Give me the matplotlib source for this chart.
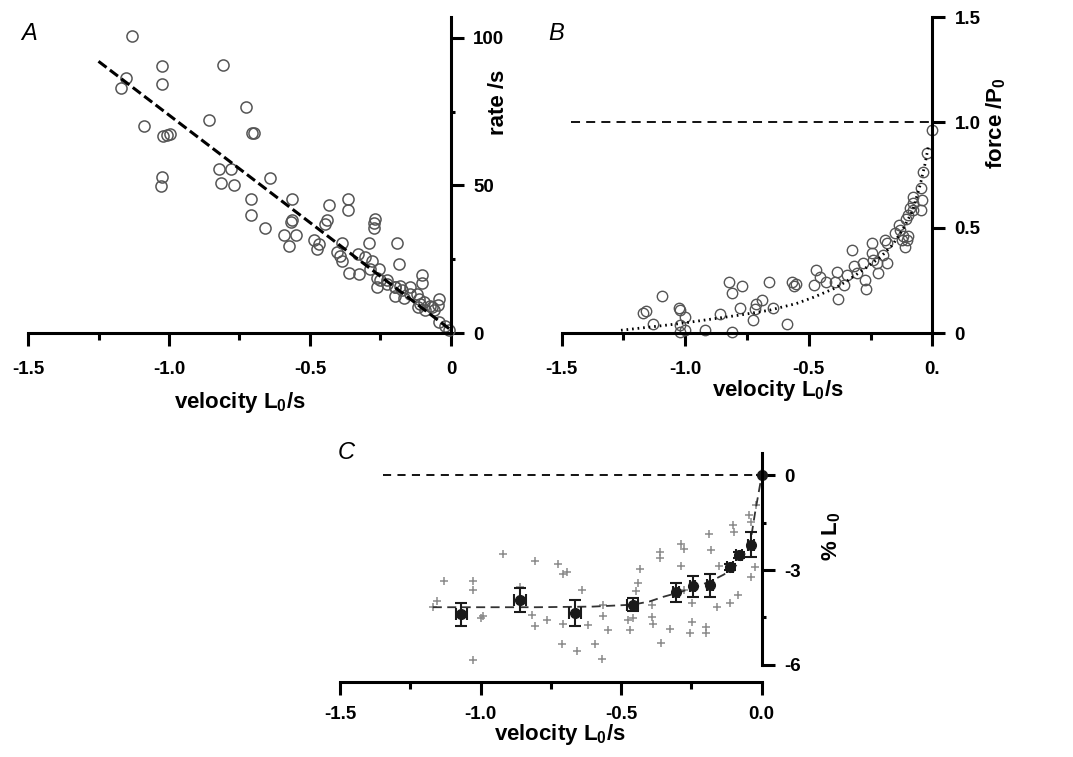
import matplotlib
matplotlib.use("Agg")
import matplotlib.pyplot as plt

plt.rcParams["font.family"] = ["Liberation Sans", "DejaVu Sans"]
plt.rcParams["mathtext.default"] = "regular"

# panel A: rate vs velocity
vel_a = [-1.13, -1.026, -0.81, -1.151, -1.17, -1.024, -0.726, -0.858, -1.09, -1.02,
         -1.008, -0.998, -0.705, -0.698, -1.024, -1.028, -0.823, -0.779, -0.815, -0.771,
         -0.643, -0.708, -0.71, -0.661, -0.563, -0.568, -0.563, -0.592, -0.573, -0.548,
         -0.433, -0.44, -0.446, -0.485, -0.468, -0.474, -0.365, -0.365, -0.271, -0.274,
         -0.272, -0.291, -0.19, -0.386, -0.404, -0.392, -0.386, -0.33, -0.306, -0.28,
         -0.286, -0.363, -0.327, -0.255, -0.261, -0.263, -0.227, -0.184, -0.2, -0.2,
         -0.18, -0.165, -0.147, -0.102, -0.102, -0.12, -0.115, -0.109, -0.118, -0.091,
         -0.073, -0.044, -0.046, -0.061, -0.043, -0.02, -0.008, -0.251, -0.227, -0.197,
         -0.173, -0.144, -0.097, -0.067]
rate_a = [100.6, 90.5, 90.7, 86.5, 82.9, 84.3, 76.6, 72.3, 70.2, 66.6,
          67.0, 67.3, 67.7, 67.7, 52.7, 49.8, 55.5, 55.5, 50.9, 50.0,
          52.4, 45.3, 40.0, 35.6, 45.5, 37.6, 38.2, 33.2, 29.3, 33.2,
          43.5, 38.3, 37.0, 31.4, 30.3, 28.5, 45.5, 41.7, 38.6, 37.2,
          35.4, 30.4, 30.4, 30.4, 27.4, 26.2, 24.5, 26.8, 25.7, 24.5,
          21.7, 20.3, 20.0, 21.7, 18.7, 15.5, 17.8, 23.4, 12.4, 15.5,
          16.0, 11.8, 15.5, 19.8, 16.9, 13.2, 11.5, 9.8, 8.8, 7.7,
          9.3, 11.4, 9.6, 7.7, 3.7, 2.3, 0.9, 18.0, 16.7, 15.5,
          14.4, 13.3, 10.6, 8.9]
fit_a_x = [-1.25, 0.0]
fit_a_y = [92.0, 1.0]

# panel B: force vs velocity
vel_b = [-1.17, -1.157, -1.132, -1.093, -1.024, -1.021, -1.0, -1.021, -1.021, -1.003,
         -0.92, -0.86, -0.81, -0.822, -0.812, -0.769, -0.779, -0.725, -0.714, -0.691,
         -0.718, -0.66, -0.644, -0.59, -0.567, -0.553, -0.56, -0.48, -0.469, -0.453,
         -0.432, -0.385, -0.381, -0.392, -0.358, -0.344, -0.326, -0.319, -0.306, -0.279,
         -0.273, -0.269, -0.246, -0.246, -0.239, -0.225, -0.219, -0.198, -0.185, -0.191,
         -0.182, -0.151, -0.134, -0.131, -0.124, -0.117, -0.111, -0.104, -0.097, -0.107,
         -0.097, -0.09, -0.077, -0.077, -0.077, -0.047, -0.043, -0.046, -0.036, -0.023,
         0.0]
force_b = [0.097, 0.103, 0.041, 0.176, 0.12, 0.11, 0.076, 0.04, 0.005, 0.013,
           0.013, 0.092, 0.005, 0.243, 0.19, 0.222, 0.12, 0.06, 0.14, 0.159,
           0.116, 0.243, 0.12, 0.041, 0.243, 0.235, 0.224, 0.227, 0.298, 0.267,
           0.243, 0.29, 0.16, 0.243, 0.227, 0.275, 0.394, 0.317, 0.286, 0.33,
           0.251, 0.211, 0.425, 0.378, 0.346, 0.33, 0.284, 0.37, 0.33, 0.443,
           0.427, 0.473, 0.513, 0.49, 0.443, 0.459, 0.41, 0.443, 0.459, 0.54,
           0.56, 0.592, 0.616, 0.584, 0.648, 0.688, 0.632, 0.584, 0.765, 0.854,
           0.965]
fit_b_x = [-1.26, -1.13, -1.02, -0.9, -0.78, -0.66, -0.55, -0.48, -0.4, -0.35,
           -0.28, -0.21, -0.16, -0.12, -0.08, -0.05, -0.03, -0.016]
fit_b_y = [0.013, 0.03, 0.045, 0.065, 0.085, 0.108, 0.14, 0.17, 0.21, 0.243,
           0.3, 0.36, 0.42, 0.49, 0.58, 0.7, 0.8, 0.886]

# panel C: % L0 vs velocity
vel_c = [-1.129, -1.154, -1.171, -1.026, -1.026, -1.026, -1.0, -0.99, -0.922, -0.86,
         -0.818, -0.807, -0.765, -0.807, -0.724, -0.706, -0.692, -0.706, -0.709, -0.658,
         -0.64, -0.617, -0.593, -0.569, -0.564, -0.566, -0.546, -0.474, -0.469, -0.457,
         -0.447, -0.439, -0.433, -0.391, -0.391, -0.386, -0.362, -0.362, -0.358, -0.326,
         -0.288, -0.276, -0.288, -0.278, -0.249, -0.249, -0.255, -0.198, -0.198, -0.186,
         -0.18, -0.16, -0.151, -0.113, -0.101, -0.097, -0.083, -0.044, -0.039, -0.039,
         -0.024, -0.02]
len_c = [-3.34, -3.97, -4.18, -3.36, -3.63, -5.84, -4.53, -4.45, -2.5, -3.54,
         -4.42, -4.79, -4.6, -2.7, -2.81, -3.12, -3.06, -4.7, -5.34, -5.58,
         -3.63, -4.74, -5.34, -5.82, -4.47, -4.1, -4.89, -4.6, -4.89, -4.53,
         -3.68, -3.42, -2.97, -4.1, -4.49, -4.7, -2.42, -2.63, -5.3, -4.87,
         -2.17, -2.34, -2.87, -3.63, -4.05, -4.66, -5.0, -4.81, -5.0, -1.86,
         -2.36, -4.16, -2.87, -4.05, -1.57, -1.78, -3.79, -1.26, -1.47, -3.21,
         -2.91, -0.94]
mean_vel = [-1.068, -0.86, -0.664, -0.459, -0.305, -0.246, -0.184, -0.113, -0.08, -0.039, 0.0]
mean_len = [-4.4, -3.95, -4.37, -4.1, -3.71, -3.52, -3.49, -2.91, -2.52, -2.2, 0.0]
mean_err = [0.36, 0.37, 0.42, 0.2, 0.29, 0.33, 0.37, 0.1, 0.1, 0.4, 0.0]
mean_xerr = [0.02, 0.02, 0.02, 0.02, 0.01, 0.01, 0.01, 0.01, 0.01, 0.01, 0.0]
fit_c_x = [-1.17, -1.0, -0.8, -0.6, -0.46, -0.4, -0.35, -0.29, -0.23, -0.18,
           -0.136, -0.1, -0.065, -0.04, -0.024, -0.01, 0.0]
fit_c_y = [-4.18, -4.18, -4.18, -4.16, -4.1, -4.0, -3.85, -3.7, -3.52, -3.35,
           -3.15, -2.95, -2.57, -2.1, -1.2, -0.5, 0.0]

vel_ticks = [-1.5, -1.0, -0.5, 0.0]
vel_minor = [-1.25, -0.75, -0.25]

SPINE = 2.2
TICKFONT = dict(fontsize=13.5, fontweight="bold")
LABELFONT = dict(fontsize=16, fontweight="bold")


def style_axes(ax):
    ax.spines["top"].set_visible(False)
    ax.spines["left"].set_visible(False)
    ax.spines["right"].set_linewidth(SPINE)
    ax.spines["bottom"].set_linewidth(SPINE)
    ax.yaxis.tick_right()
    ax.yaxis.set_label_position("right")
    ax.tick_params(which="major", length=9, width=SPINE)
    ax.tick_params(which="minor", length=5, width=SPINE)
    ax.tick_params(axis="x", which="major", pad=11)
    ax.tick_params(axis="y", which="major", pad=7)
    ax.set_xlim(-1.5, 0)
    ax.set_xticks(vel_minor, minor=True)
    ax.patch.set_alpha(0)


fig = plt.figure(figsize=(10.73, 7.57), dpi=100)

# ---- A
axA = fig.add_axes([0.0261, 0.5601, 0.3942, 0.4174])
style_axes(axA)
axA.plot(vel_a, rate_a, "o", ms=8, mfc="none", mec="#555555", mew=1.1, clip_on=False)
axA.plot(fit_a_x, fit_a_y, color="black", lw=2.2, dashes=(3.3, 1.4))
axA.set_ylim(0, 107)
axA.set_yticks([0, 50, 100])
axA.set_yticklabels(["0", "50", "100"], **TICKFONT)
axA.set_yticks([25, 75], minor=True)
axA.tick_params(axis="y", which="minor", length=3)
axA.set_xticks(vel_ticks)
axA.set_xticklabels(["-1.5", "-1.0", "-0.5", "0"], **TICKFONT)
axA.set_xlabel("velocity L$_0$/s", **LABELFONT)
axA.xaxis.set_label_coords(0.5, -0.18)
axA.set_ylabel("rate /s", rotation=90, **LABELFONT)
axA.yaxis.set_label_coords(1.087, 0.73)
fig.text(0.027, 0.956, "A", fontsize=17, style="italic", ha="center", va="center")

# ---- B
axB = fig.add_axes([0.5235, 0.5601, 0.3454, 0.4174])
style_axes(axB)
axB.plot(vel_b, force_b, "o", ms=7.5, mfc="none", mec="#555555", mew=1.0, clip_on=False)
axB.plot(fit_b_x, fit_b_y, color="black", lw=2.0, linestyle=(0, (0.6, 1.4)))
axB.axhline(1.0, xmin=0.024, xmax=1.0, color="black", lw=1.3, dashes=(5, 3.4))
axB.set_ylim(0, 1.5)
axB.set_yticks([0, 0.5, 1.0, 1.5])
axB.set_yticklabels(["0", "0.5", "1.0", "1.5"], **TICKFONT)
axB.set_xticks(vel_ticks)
axB.set_xticklabels(["-1.5", "-1.0", "-0.5", "0."], **TICKFONT)
axB.set_xlabel("velocity L$_0$/s", **LABELFONT)
axB.xaxis.set_label_coords(0.584, -0.142)
axB.set_ylabel("force /P$_0$", rotation=90, **LABELFONT)
axB.yaxis.set_label_coords(1.14, 0.665)
fig.text(0.518, 0.956, "B", fontsize=17, style="italic", ha="center", va="center")

# ---- C
axC = fig.add_axes([0.3169, 0.0991, 0.3930, 0.3021])
style_axes(axC)
axC.spines["right"].set_bounds(-6, 0.7)
axC.plot(vel_c, len_c, "+", ms=5.5, color="#8a8a8a", mew=1.1, clip_on=False)
axC.plot(fit_c_x, fit_c_y, color="#333333", lw=1.3, dashes=(5, 3))
axC.axhline(0.0, xmin=0.103, xmax=1.0, color="black", lw=1.3, dashes=(4.5, 3.5))
axC.errorbar(mean_vel, mean_len, yerr=mean_err, xerr=mean_xerr, fmt="o", ms=7,
             color="#1a1a1a", ecolor="#1a1a1a", elinewidth=1.5, capsize=4, capthick=1.5,
             clip_on=False)
axC.set_ylim(-6.55, 0.7)
axC.set_yticks([0, -3, -6])
axC.set_yticklabels(["0", "-3", "-6"], **TICKFONT)
axC.set_yticks([-1.5, -4.5], minor=True)
axC.tick_params(axis="y", which="minor", length=3)
axC.tick_params(axis="x", which="major", pad=8)
axC.set_xticks(vel_ticks)
axC.set_xticklabels(["-1.5", "-1.0", "-0.5", "0.0"], **TICKFONT)
axC.set_xlabel("velocity L$_0$/s", **LABELFONT)
axC.xaxis.set_label_coords(0.522, -0.175)
axC.set_ylabel("% L$_0$", rotation=90, **LABELFONT)
axC.yaxis.set_label_coords(1.138, 0.638)
fig.text(0.3225, 0.402, "C", fontsize=17, style="italic", ha="center", va="center")

fig.savefig("out.png", dpi=100)
